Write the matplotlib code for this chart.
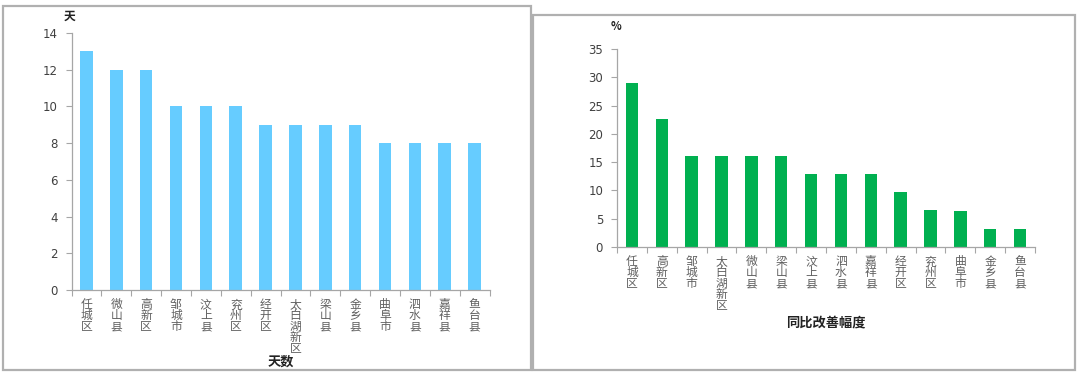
import matplotlib
matplotlib.use("Agg")
import matplotlib.pyplot as plt
import numpy as np
from matplotlib.patches import Rectangle

plt.rcParams['font.family'] = ['Noto Sans CJK SC', 'DejaVu Sans']

# left chart: days
days_names = ['任城区', '微山县', '高新区', '邹城市', '汶上县', '兖州区', '经开区',
              '太白湖新区', '梁山县', '金乡县', '曲阜市', '泗水县', '嘉祥县', '鱼台县']
days_values = [13, 12, 12, 10, 10, 10, 9, 9, 9, 9, 8, 8, 8, 8]

# right chart: year-on-year improvement (%)
pct_names = ['任城区', '高新区', '邹城市', '太白湖新区', '微山县', '梁山县', '汶上县',
             '泗水县', '嘉祥县', '经开区', '兖州区', '曲阜市', '金乡县', '鱼台县']
pct_values = [29.0, 22.6, 16.1, 16.1, 16.0, 16.0, 12.9, 12.9, 12.9, 9.7, 6.5, 6.4, 3.2, 3.2]

W, H = 1080, 374
fig = plt.figure(figsize=(W / 100, H / 100), dpi=100)
fig.patch.set_facecolor('white')

# panel borders (pixel coords -> figure fraction)
def border(x0, y0, x1, y1):
    fig.add_artist(Rectangle((x0 / W, 1 - y1 / H), (x1 - x0) / W, (y1 - y0) / H,
                             transform=fig.transFigure, fill=False,
                             edgecolor='#b0b0b0', linewidth=1.6))

border(3, 6, 531, 370)
border(533, 15, 1075, 370)

axis_col = '#a6a6a6'


def style(ax, names, values, color, ymax, ystep):
    x = np.arange(len(names))
    ax.bar(x, values, width=0.42, color=color, zorder=2)
    ax.set_xlim(-0.5, len(names) - 0.5)
    ax.set_ylim(0, ymax)
    ax.set_yticks(np.arange(0, ymax + 0.01, ystep))
    for s in ['top', 'right']:
        ax.spines[s].set_visible(False)
    for s in ['left', 'bottom']:
        ax.spines[s].set_color(axis_col)
        ax.spines[s].set_linewidth(0.9)
    ax.tick_params(axis='y', direction='out', length=4, width=0.8, color=axis_col,
                   labelsize=8.5, labelcolor='#404040', pad=6)
    for lab in ax.get_yticklabels():
        lab.set_fontfamily('DejaVu Sans')
    ax.set_xticks(x)
    ax.set_xticklabels(['\n'.join(n) for n in names], fontsize=8.5, color='#606060',
                       va='top', linespacing=0.8)
    ax.set_xticks(np.arange(-0.5, len(names), 1), minor=True)
    ax.tick_params(axis='x', which='major', length=0, pad=6)
    ax.tick_params(axis='x', which='minor', length=4, width=0.8, color=axis_col)
    return ax


ax1 = fig.add_axes([71.5 / W, 1 - 290 / H, (489.5 - 71.5) / W, (290 - 33) / H])
style(ax1, days_names, days_values, '#66CCFF', 14, 2)
fig.text(70 / W, 1 - 16 / H, '天', ha='center', va='center', fontsize=8.5,
         color='#222222', fontweight='bold')
fig.text(280.5 / W, 1 - 362 / H, '天数', ha='center', va='center', fontsize=9.5,
         color='#222222', fontweight='bold')

ax2 = fig.add_axes([617 / W, 1 - 247 / H, (1035 - 617) / W, (247 - 49) / H])
style(ax2, pct_names, pct_values, '#00B050', 35, 5)
fig.text(616 / W, 1 - 26 / H, '%', ha='center', va='center', fontsize=8,
         color='#222222', fontweight='bold')
fig.text(826 / W, 1 - 322 / H, '同比改善幅度', ha='center', va='center', fontsize=9.5,
         color='#222222', fontweight='bold')

fig.savefig('out.png', dpi=100, facecolor='white')
